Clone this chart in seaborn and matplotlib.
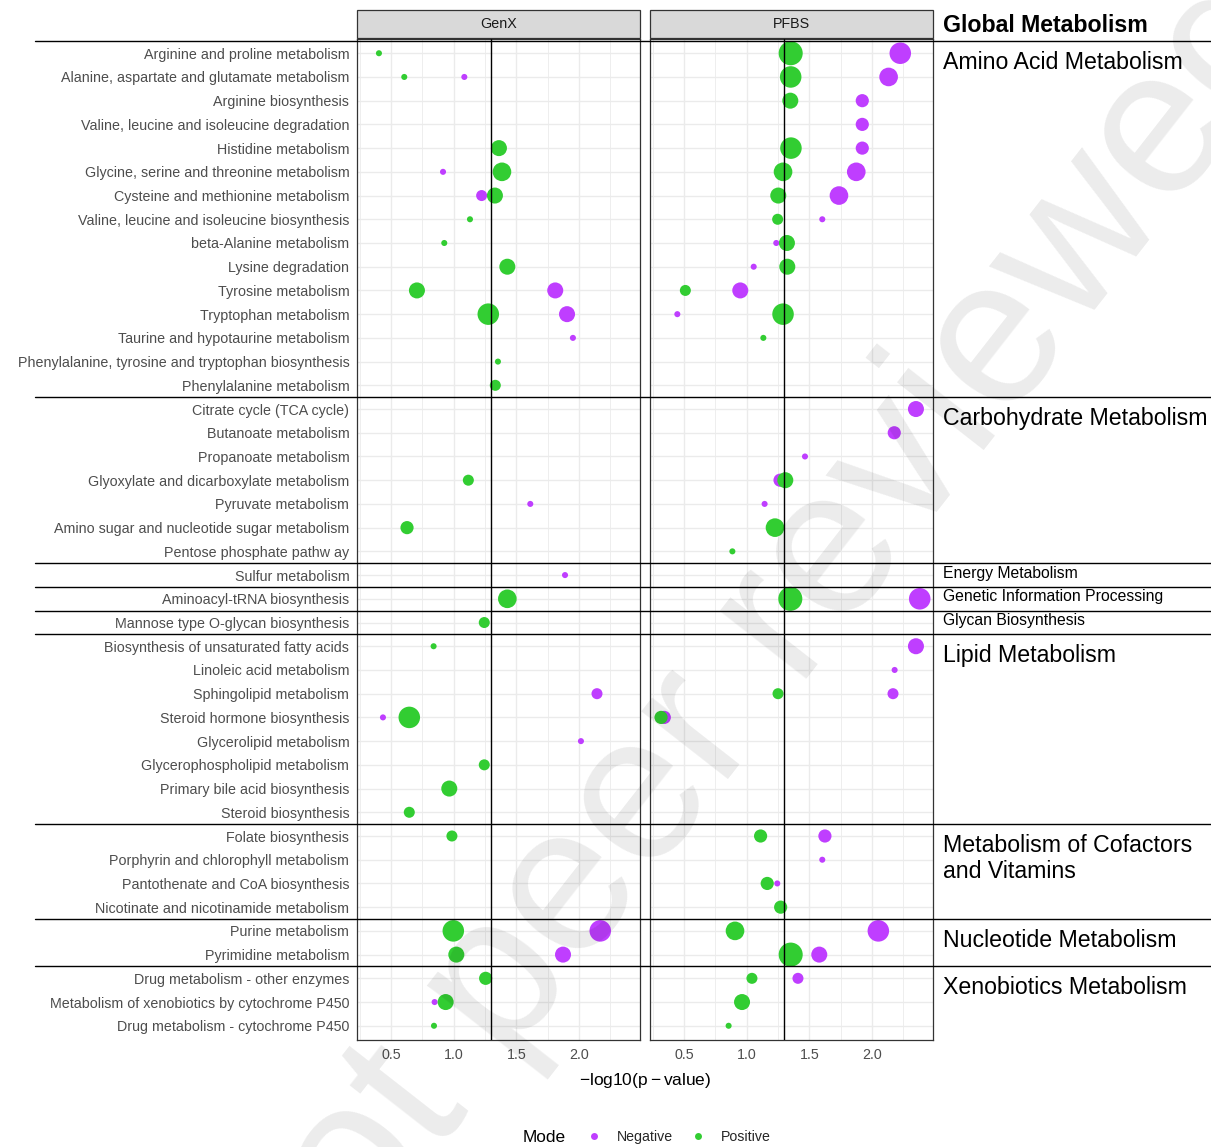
import numpy as np
import pandas as pd
import matplotlib
matplotlib.use("Agg")
import matplotlib.pyplot as plt
import matplotlib.transforms as mtransforms
from matplotlib.lines import Line2D
from matplotlib.patches import Rectangle
import seaborn as sns

# ---------------------------------------------------------------- data
pathways = [
    "Arginine and proline metabolism",
    "Alanine, aspartate and glutamate metabolism",
    "Arginine biosynthesis",
    "Valine, leucine and isoleucine degradation",
    "Histidine metabolism",
    "Glycine, serine and threonine metabolism",
    "Cysteine and methionine metabolism",
    "Valine, leucine and isoleucine biosynthesis",
    "beta-Alanine metabolism",
    "Lysine degradation",
    "Tyrosine metabolism",
    "Tryptophan metabolism",
    "Taurine and hypotaurine metabolism",
    "Phenylalanine, tyrosine and tryptophan biosynthesis",
    "Phenylalanine metabolism",
    "Citrate cycle (TCA cycle)",
    "Butanoate metabolism",
    "Propanoate metabolism",
    "Glyoxylate and dicarboxylate metabolism",
    "Pyruvate metabolism",
    "Amino sugar and nucleotide sugar metabolism",
    "Pentose phosphate pathw ay",
    "Sulfur metabolism",
    "Aminoacyl-tRNA biosynthesis",
    "Mannose type O-glycan biosynthesis",
    "Biosynthesis of unsaturated fatty acids",
    "Linoleic acid metabolism",
    "Sphingolipid metabolism",
    "Steroid hormone biosynthesis",
    "Glycerolipid metabolism",
    "Glycerophospholipid metabolism",
    "Primary bile acid biosynthesis",
    "Steroid biosynthesis",
    "Folate biosynthesis",
    "Porphyrin and chlorophyll metabolism",
    "Pantothenate and CoA biosynthesis",
    "Nicotinate and nicotinamide metabolism",
    "Purine metabolism",
    "Pyrimidine metabolism",
    "Drug metabolism - other enzymes",
    "Metabolism of xenobiotics by cytochrome P450",
    "Drug metabolism - cytochrome P450",
]

group_names = [
    "Amino Acid Metabolism", "Carbohydrate Metabolism", "Energy Metabolism",
    "Genetic Information Processing", "Glycan Biosynthesis", "Lipid Metabolism",
    "Metabolism of Cofactors\nand Vitamins", "Nucleotide Metabolism",
    "Xenobiotics Metabolism",
]
group_sizes = [15, 7, 1, 1, 1, 8, 4, 2, 3]
chemicals = ["GenX", "PFBS"]
modes = ["Negative", "Positive"]

# GenX, negative mode
genx_neg_path = [
    "Alanine, aspartate and glutamate metabolism",
    "Glycine, serine and threonine metabolism",
    "Cysteine and methionine metabolism",
    "Tyrosine metabolism",
    "Tryptophan metabolism",
    "Taurine and hypotaurine metabolism",
    "Pyruvate metabolism",
    "Sulfur metabolism",
    "Sphingolipid metabolism",
    "Steroid hormone biosynthesis",
    "Glycerolipid metabolism",
    "Purine metabolism",
    "Pyrimidine metabolism",
    "Metabolism of xenobiotics by cytochrome P450",
]
genx_neg_logp = [1.085, 0.915, 1.223, 1.810, 1.904, 1.951, 1.611, 1.888,
                 2.143, 0.436, 2.015, 2.169, 1.872, 0.848]
genx_neg_hits = [1, 1, 2, 4, 4, 1, 1, 1, 2, 1, 1, 6, 4, 1]

# GenX, positive mode
genx_pos_path = [
    "Arginine and proline metabolism",
    "Alanine, aspartate and glutamate metabolism",
    "Histidine metabolism",
    "Glycine, serine and threonine metabolism",
    "Cysteine and methionine metabolism",
    "Valine, leucine and isoleucine biosynthesis",
    "beta-Alanine metabolism",
    "Lysine degradation",
    "Tyrosine metabolism",
    "Tryptophan metabolism",
    "Phenylalanine, tyrosine and tryptophan biosynthesis",
    "Phenylalanine metabolism",
    "Glyoxylate and dicarboxylate metabolism",
    "Amino sugar and nucleotide sugar metabolism",
    "Aminoacyl-tRNA biosynthesis",
    "Mannose type O-glycan biosynthesis",
    "Biosynthesis of unsaturated fatty acids",
    "Steroid hormone biosynthesis",
    "Glycerophospholipid metabolism",
    "Primary bile acid biosynthesis",
    "Steroid biosynthesis",
    "Folate biosynthesis",
    "Purine metabolism",
    "Pyrimidine metabolism",
    "Drug metabolism - other enzymes",
    "Metabolism of xenobiotics by cytochrome P450",
    "Drug metabolism - cytochrome P450",
]
genx_pos_logp = [0.404, 0.606, 1.361, 1.385, 1.329, 1.130, 0.925, 1.428,
                 0.707, 1.276, 1.353, 1.332, 1.117, 0.628, 1.428, 1.244,
                 0.840, 0.646, 1.244, 0.965, 0.646, 0.986, 0.997, 1.021,
                 1.255, 0.936, 0.843]
genx_pos_hits = [1, 1, 4, 5, 4, 1, 1, 4, 4, 6, 1, 2, 2, 3, 5, 2, 1, 6, 2,
                 4, 2, 2, 6, 4, 3, 4, 1]

# PFBS, negative mode
pfbs_neg_path = [
    "Arginine and proline metabolism",
    "Alanine, aspartate and glutamate metabolism",
    "Arginine biosynthesis",
    "Valine, leucine and isoleucine degradation",
    "Histidine metabolism",
    "Glycine, serine and threonine metabolism",
    "Cysteine and methionine metabolism",
    "Valine, leucine and isoleucine biosynthesis",
    "beta-Alanine metabolism",
    "Lysine degradation",
    "Tyrosine metabolism",
    "Tryptophan metabolism",
    "Citrate cycle (TCA cycle)",
    "Butanoate metabolism",
    "Propanoate metabolism",
    "Glyoxylate and dicarboxylate metabolism",
    "Pyruvate metabolism",
    "Aminoacyl-tRNA biosynthesis",
    "Biosynthesis of unsaturated fatty acids",
    "Linoleic acid metabolism",
    "Sphingolipid metabolism",
    "Steroid hormone biosynthesis",
    "Folate biosynthesis",
    "Porphyrin and chlorophyll metabolism",
    "Pantothenate and CoA biosynthesis",
    "Purine metabolism",
    "Pyrimidine metabolism",
    "Drug metabolism - other enzymes",
]
pfbs_neg_logp = [2.225, 2.132, 1.922, 1.922, 1.922, 1.874, 1.736, 1.603,
                 1.236, 1.056, 0.949, 0.447, 2.350, 2.177, 1.465, 1.266,
                 1.143, 2.380, 2.350, 2.180, 2.167, 0.343, 1.624, 1.603,
                 1.244, 2.050, 1.579, 1.409]
pfbs_neg_hits = [6, 5, 3, 3, 3, 5, 5, 1, 1, 1, 4, 1, 4, 3, 1, 3, 1, 6, 4,
                 1, 2, 3, 3, 1, 1, 6, 4, 2]

# PFBS, positive mode
pfbs_pos_path = [
    "Arginine and proline metabolism",
    "Alanine, aspartate and glutamate metabolism",
    "Arginine biosynthesis",
    "Histidine metabolism",
    "Glycine, serine and threonine metabolism",
    "Cysteine and methionine metabolism",
    "Valine, leucine and isoleucine biosynthesis",
    "beta-Alanine metabolism",
    "Lysine degradation",
    "Tyrosine metabolism",
    "Tryptophan metabolism",
    "Taurine and hypotaurine metabolism",
    "Glyoxylate and dicarboxylate metabolism",
    "Amino sugar and nucleotide sugar metabolism",
    "Pentose phosphate pathw ay",
    "Aminoacyl-tRNA biosynthesis",
    "Sphingolipid metabolism",
    "Steroid hormone biosynthesis",
    "Folate biosynthesis",
    "Pantothenate and CoA biosynthesis",
    "Nicotinate and nicotinamide metabolism",
    "Purine metabolism",
    "Pyrimidine metabolism",
    "Drug metabolism - other enzymes",
    "Metabolism of xenobiotics by cytochrome P450",
    "Drug metabolism - cytochrome P450",
]
pfbs_pos_logp = [1.351, 1.351, 1.348, 1.353, 1.290, 1.252, 1.247, 1.321,
                 1.324, 0.511, 1.290, 1.133, 1.308, 1.226, 0.886, 1.348,
                 1.250, 0.317, 1.111, 1.164, 1.271, 0.907, 1.351, 1.042,
                 0.963, 0.856]
pfbs_pos_hits = [7, 6, 4, 6, 5, 4, 2, 4, 4, 2, 6, 1, 4, 5, 1, 7, 2, 3, 3,
                 3, 3, 5, 7, 2, 4, 1]

x_ticks = [0.5, 1.0, 1.5, 2.0]
x_tick_labels = ["0.5", "1.0", "1.5", "2.0"]
cutoff = -np.log10(0.05)

# ---------------------------------------------------------------- table
frames = []
for chem, mode, path, val, hits in [
    ("GenX", "Negative", genx_neg_path, genx_neg_logp, genx_neg_hits),
    ("GenX", "Positive", genx_pos_path, genx_pos_logp, genx_pos_hits),
    ("PFBS", "Negative", pfbs_neg_path, pfbs_neg_logp, pfbs_neg_hits),
    ("PFBS", "Positive", pfbs_pos_path, pfbs_pos_logp, pfbs_pos_hits),
]:
    frames.append(pd.DataFrame({"Chemical": chem, "Mode": mode,
                                "Pathway": path, "logP": val, "Hits": hits}))
df = pd.concat(frames, ignore_index=True)
df["Pathway"] = pd.Categorical(df["Pathway"], categories=pathways)

palette = {"Negative": "#BF3EFF", "Positive": "#32CD32"}
size_map = {1: 19, 2: 63, 3: 90, 4: 133, 5: 180, 6: 240, 7: 300}

# ---------------------------------------------------------------- style
sns.set_style("white")
plt.rcParams["font.family"] = ["Liberation Sans", "DejaVu Sans"]
plt.rcParams["mathtext.fontset"] = "custom"
plt.rcParams["mathtext.rm"] = "Liberation Sans"
plt.rcParams["mathtext.it"] = "Liberation Sans:italic"
plt.rcParams["mathtext.bf"] = "Liberation Sans:bold"

W, H = 1211, 1147
fig = plt.figure(figsize=(W / 100, H / 100), dpi=100)

def fx(px):
    return px / W

def fy(py):
    return 1 - py / H

panel_top, panel_bottom = 39, 1040
panel_lefts = [357, 650]
panel_w = 283
n_rows = len(pathways)

axes = []
for i, chem in enumerate(chemicals):
    ax = fig.add_axes([fx(panel_lefts[i]), fy(panel_bottom),
                       panel_w / W, (panel_bottom - panel_top) / H])
    sub = df[df["Chemical"] == chem]
    sns.scatterplot(data=sub, x="logP", y="Pathway", hue="Mode",
                    hue_order=modes, palette=palette, size="Hits",
                    sizes=size_map, linewidth=0, alpha=1, legend=False,
                    ax=ax, zorder=2)
    ax.axvline(cutoff, color="black", lw=1.0, zorder=3)
    ax.set_xlim(0.229, 2.486)
    ax.set_ylim(n_rows - 1 + 0.6, -0.6)
    ax.set_xticks(x_ticks)
    ax.set_xticklabels(x_tick_labels)
    ax.set_xticks([0.25, 0.75, 1.25, 1.75, 2.25], minor=True)
    ax.set_yticks(range(n_rows))
    ax.set_axisbelow(True)
    ax.grid(which="major", axis="both", color="#EBEBEB", lw=1.0)
    ax.grid(which="minor", axis="x", color="#EBEBEB", lw=0.6)
    ax.set_xlabel("")
    ax.set_ylabel("")
    for sp in ax.spines.values():
        sp.set_color("#333333")
        sp.set_linewidth(0.9)
    ax.tick_params(axis="x", which="major", length=3, width=0.8,
                   color="#333333", labelsize=10.3, labelcolor="#4D4D4D",
                   pad=2.5)
    ax.tick_params(axis="x", which="minor", length=0)
    if i == 0:
        ax.set_yticklabels(pathways)
        ax.tick_params(axis="y", length=3, width=0.8, color="#333333",
                       labelsize=10.3, labelcolor="#4D4D4D", pad=2.5)
    else:
        ax.tick_params(axis="y", length=0, labelleft=False)
    axes.append(ax)

    # facet strip
    fig.add_artist(Rectangle((fx(panel_lefts[i]), fy(38)), panel_w / W,
                             28 / H, transform=fig.transFigure,
                             facecolor="#D9D9D9", edgecolor="#333333",
                             lw=0.9))
    fig.text(fx(panel_lefts[i] + panel_w / 2), fy(24), chem, ha="center",
             va="center", fontsize=10.3, color="#1A1A1A")

# ---------------------------------------------------------------- groups
row_tr = mtransforms.blended_transform_factory(fig.transFigure,
                                               axes[0].transData)
label_x = fx(943)
start = 0
for name, size in zip(group_names, group_sizes):
    edge = start - 0.5
    fig.add_artist(Line2D([fx(35), 1.0], [edge, edge], transform=row_tr,
                          color="black", lw=1.0, zorder=4))
    if size == 1:
        fig.text(label_x, start - 0.08, name, transform=row_tr,
                 ha="left", va="center", fontsize=11.3, color="black")
    else:
        fig.text(label_x, edge + 0.4, name, transform=row_tr,
                 ha="left", va="top", fontsize=16.7, color="black",
                 linespacing=1.2)
    start += size

fig.text(label_x, fy(26), "Global Metabolism", ha="left", va="center",
         fontsize=16.7, fontweight="bold", color="black")

# ---------------------------------------------------------------- axis title
fig.text(fx(645), fy(1080),
         r"$-\mathrm{log10}\left(\mathrm{p}-\mathrm{value}\right)$",
         ha="center", va="center", fontsize=12.5, color="black")

# ---------------------------------------------------------------- legend
fig.text(fx(544), fy(1137), "Mode", ha="center", va="center",
         fontsize=12.4, color="black")
handles = [Line2D([], [], ls="none", marker="o", markersize=5,
                  markerfacecolor=palette[m], markeredgewidth=0, label=m)
           for m in modes]
fig.legend(handles=handles, loc="center", ncol=2, frameon=False,
           bbox_to_anchor=(fx(679), fy(1137)), fontsize=10.2,
           handlelength=1.0, handletextpad=1.1, columnspacing=1.3,
           borderpad=0, borderaxespad=0)

# ---------------------------------------------------------------- watermark
fig.text(fx(292), fy(1338), "not peer reviewed", rotation=52,
         rotation_mode="anchor", ha="left", va="baseline", fontsize=150,
         color="black", alpha=0.08, zorder=10)

fig.savefig("out.png", dpi=100)
